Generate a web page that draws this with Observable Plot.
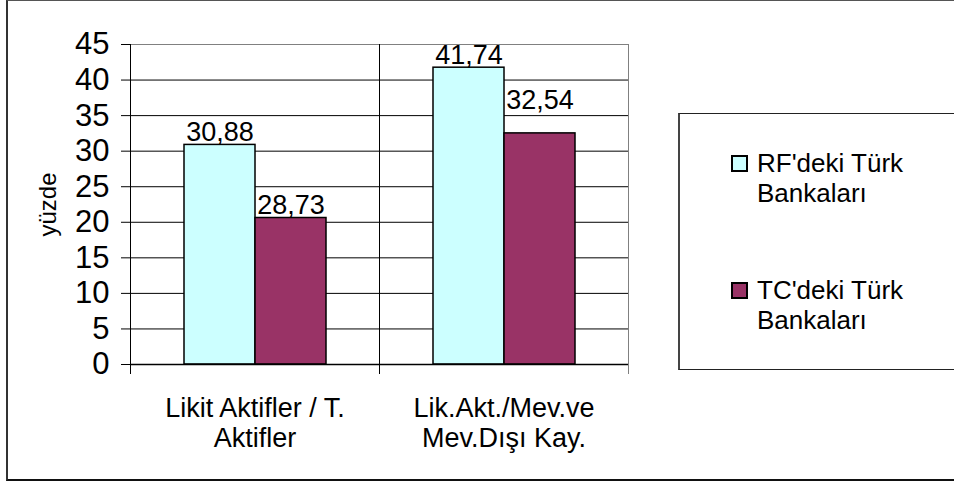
<!DOCTYPE html>
<html>
<head>
<meta charset="utf-8">
<script src="https://cdn.jsdelivr.net/npm/d3@7"></script>
<script src="https://cdn.jsdelivr.net/npm/@observablehq/plot@0.6"></script>
<style>
  html, body { margin: 0; padding: 0; background: #fff; }
  #wrap { position: relative; width: 954px; height: 481px; overflow: hidden;
          font-family: "Liberation Sans", Arial, sans-serif; color: #000; }
  #border { position: absolute; left: 6px; top: 0px; width: 970px; height: 481px; box-sizing: border-box;
            border-left: 2px solid #333; border-top: 1px solid #555; border-bottom: 2px solid #111; }
  #chart { position: absolute; left: 0; top: 0; }
  #legendBox { position: absolute; left: 678px; top: 113px; width: 290px; height: 257px; box-sizing: border-box;
               border: 1px solid #222; border-left: 2px solid #444; background: #fff; }
  .sw { position: absolute; width: 17px; height: 17px; box-sizing: border-box; border: 2px solid #000; }
  .lt { position: absolute; font-size: 26px; line-height: 30px; white-space: pre; }
</style>
</head>
<body>
<div id="wrap">
  <div id="border"></div>
  <div id="chart"></div>
  <div id="legendBox"></div>
</div>
<script>
// ---- data ----
const categories = ["Likit Aktifler / T.\nAktifler", "Lik.Akt./Mev.ve\nMev.Dışı Kay."];
const seriesNames = ["RF'deki Türk\nBankaları", "TC'deki Türk\nBankaları"];
const rfValues = [30.88, 41.74];          // bar heights as drawn
const tcValues = [20.6, 32.5];            // bar heights as drawn
const rfLabels = ["30,88", "41,74"];
const tcLabels = ["28,73", "32,54"];
const rfLabelAt = [30.88, 41.74];         // where the label sits
const tcLabelAt = [20.6, 35.4];
const yTicks = [0, 5, 10, 15, 20, 25, 30, 35, 40, 45];
const yTitle = "yüzde";
const colors = ["#CCFFFF", "#993366"];

const rows = categories.flatMap((c, i) => [
  {category: c, series: seriesNames[0], value: rfValues[i], label: rfLabels[i], at: rfLabelAt[i]},
  {category: c, series: seriesNames[1], value: tcValues[i], label: tcLabels[i], at: tcLabelAt[i]}
]);

const font = "'Liberation Sans', Arial, sans-serif";

const chart = Plot.plot({
  width: 954, height: 481,
  marginLeft: 129, marginRight: 326, marginTop: 44, marginBottom: 117,
  style: {fontFamily: font, background: "transparent", color: "#000", overflow: "visible"},
  fx: {domain: categories, paddingInner: 0, paddingOuter: 0, axis: null, label: null},
  x: {domain: seriesNames, paddingInner: 0, paddingOuter: 0.745, axis: null, label: null},
  y: {domain: [0, 45], axis: null},
  color: {domain: seriesNames, range: colors},
  marks: [
    Plot.gridY(yTicks, {stroke: "#000", strokeOpacity: 1}),
    Plot.frame({anchor: "top", stroke: "#808080"}),
    Plot.frame({anchor: "right", stroke: "#808080", insetBottom: -9}),
    Plot.frame({anchor: "left", stroke: "#000", insetBottom: -9}),
    Plot.barY(rows, {fx: "category", x: "series", y: "value", fill: "series", stroke: "#000", strokeWidth: 1.5}),
    Plot.ruleY([0], {stroke: "#000", strokeWidth: 1.5}),
    Plot.axisY({ticks: yTicks, tickSize: 9, tickPadding: 12, fontSize: 31, label: null}),
    Plot.text(rows, {fx: "category", x: "series", y: "at", text: "label",
                     lineAnchor: "bottom", dy: -4, fontSize: 27}),
    Plot.text(categories, {fx: d => d, text: d => d, frameAnchor: "bottom", lineAnchor: "top",
                           dy: 31, fontSize: 27, lineHeight: 30 / 27}),
    Plot.text([yTitle], {fx: () => categories[0], text: d => d, frameAnchor: "left", textAnchor: "middle",
                         rotate: -90, dx: -82.5, fontSize: 24})
  ]
});
document.getElementById("chart").appendChild(chart);

// ---- legend ----
const wrap = document.getElementById("wrap");
const swTop = [155, 282];
const txtTop = [148, 275];
seriesNames.forEach((s, i) => {
  const sw = document.createElement("div");
  sw.className = "sw";
  sw.style.left = "731px"; sw.style.top = swTop[i] + "px";
  sw.style.background = colors[i];
  wrap.appendChild(sw);
  const t = document.createElement("div");
  t.className = "lt";
  t.style.left = "757px"; t.style.top = txtTop[i] + "px";
  t.textContent = s;
  wrap.appendChild(t);
});
</script>
</body>
</html>
